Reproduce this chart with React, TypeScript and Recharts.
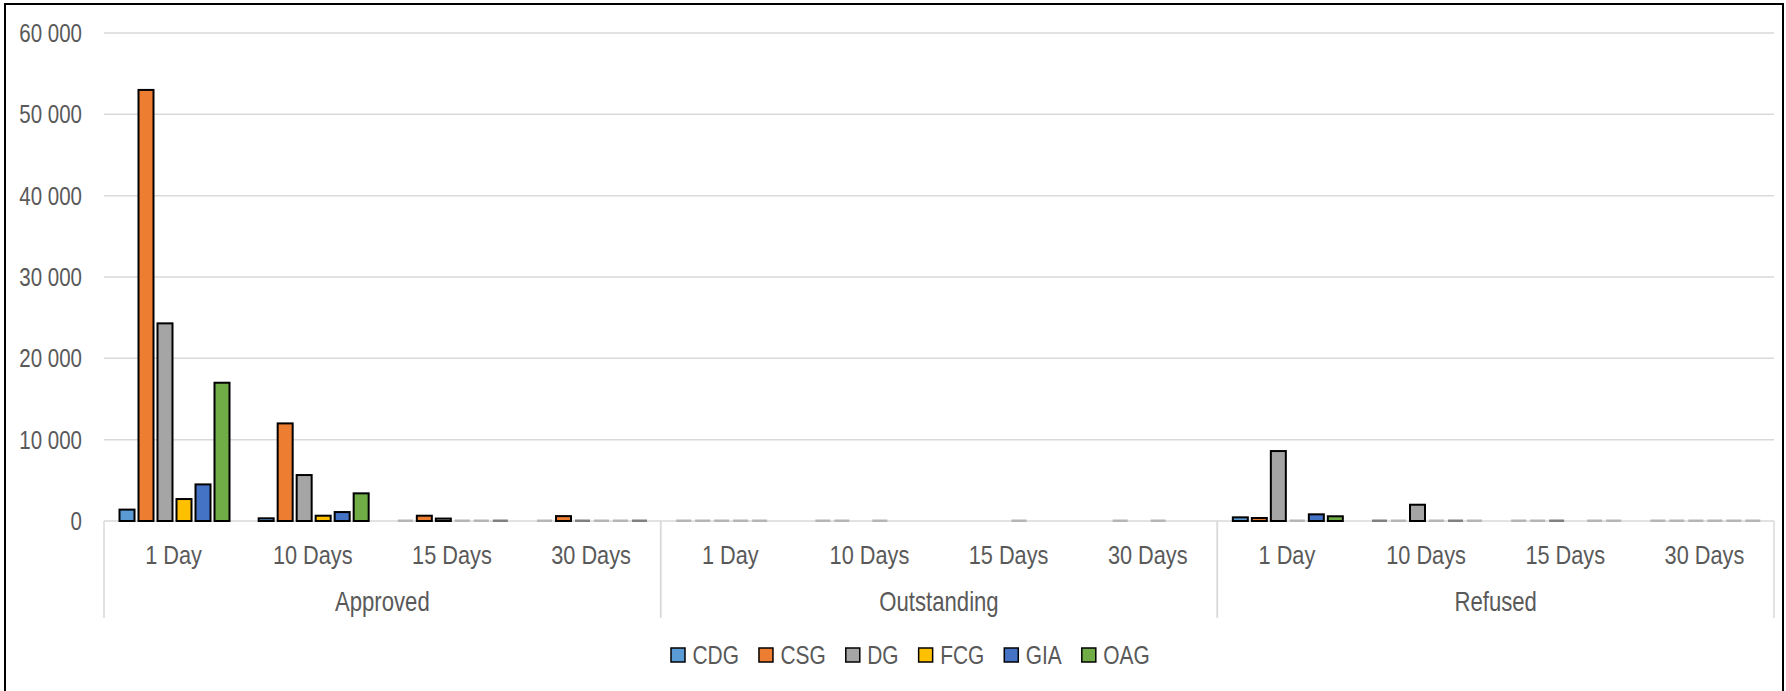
import React from "react";
import {
  BarChart,
  Bar,
  XAxis,
  YAxis,
  CartesianGrid,
  Legend,
} from "recharts";

// Categories
const groups = ["Approved", "Outstanding", "Refused"];
const periods = ["1 Day", "10 Days", "15 Days", "30 Days"];

// Series values, 12 per series (group x period, in order)
const cdg = [1400, 330, 30, 30, 20, 20, 0, 0, 450, 120, 30, 30];
const csg = [53000, 12000, 650, 600, 20, 20, 0, 20, 370, 50, 30, 30];
const dg = [24300, 5650, 300, 120, 20, 0, 0, 0, 8600, 2000, 100, 30];
const fcg = [2700, 650, 60, 40, 20, 20, 20, 20, 30, 30, 0, 30];
const gia = [4500, 1100, 60, 40, 20, 0, 0, 0, 820, 120, 30, 30];
const oag = [17000, 3400, 80, 180, 0, 0, 0, 0, 580, 50, 30, 30];

const yTicks = [0, 10000, 20000, 30000, 40000, 50000, 60000];

const SERIES = [
  { key: "CDG", values: cdg, color: "#5b9bd5" },
  { key: "CSG", values: csg, color: "#ed7d31" },
  { key: "DG", values: dg, color: "#a5a5a5" },
  { key: "FCG", values: fcg, color: "#ffc000" },
  { key: "GIA", values: gia, color: "#4472c4" },
  { key: "OAG", values: oag, color: "#70ad47" },
];

const data = groups.flatMap((group, gi) =>
  periods.map((period, pi) => {
    const row: Record<string, string | number> = { group, period };
    SERIES.forEach((s) => {
      row[s.key] = s.values[gi * periods.length + pi];
    });
    return row;
  })
);

const W = 1786;
const H = 691;
// no narrow font installed, so Liberation Sans gets squeezed horizontally
const FONT = '"Liberation Sans", Arial, sans-serif';
const NARROW = 0.82;
const TEXT = "#595959";
const GRID = "#d9d9d9";
const MARGIN = { top: 33, right: 12, left: 14, bottom: 23 };
const Y_WIDTH = 90;
const X1_HEIGHT = 40;
const X2_HEIGHT = 57;
const LEGEND_HEIGHT = 50;
const PLOT_LEFT = MARGIN.left + Y_WIDTH;
const PLOT_RIGHT = W - MARGIN.right;
const PLOT_BOTTOM = H - MARGIN.bottom - LEGEND_HEIGHT - X1_HEIGHT - X2_HEIGHT;
const GROUP_HALF = (PLOT_RIGHT - PLOT_LEFT) / groups.length / 2;

const fmt = (v: number) => String(v).replace(/\B(?=(\d{3})+(?!\d))/g, " ");

let measureCtx: CanvasRenderingContext2D | null = null;
function textWidth(t: string, size: number) {
  if (!measureCtx) measureCtx = document.createElement("canvas").getContext("2d");
  if (!measureCtx) return t.length * size * 0.5;
  measureCtx.font = `${size}px "Liberation Sans", Arial`;
  return measureCtx.measureText(t).width * NARROW;
}

function NText(props: {
  x: number;
  y: number;
  size: number;
  anchor?: "start" | "middle" | "end";
  children: React.ReactNode;
}) {
  const { x, y, size, anchor = "start", children } = props;
  return (
    <text
      transform={`translate(${x} ${y}) scale(${NARROW} 1)`}
      textAnchor={anchor}
      fontSize={size}
      fontFamily={FONT}
      fill={TEXT}
    >
      {children}
    </text>
  );
}

// tiny values show as a flat dash on the axis, like the original
function makeShape(key: string, color: string) {
  return (props: any) => {
    const { x, y, width, height, payload } = props;
    const v = payload?.[key] ?? 0;
    if (!v) return <g />;
    const bottom = y + height;
    if (height < 0.6) {
      return <rect x={x} y={bottom - 1.5} width={width} height={2.5} fill="#b5b5b5" />;
    }
    if (height < 2) {
      return <rect x={x} y={bottom - 1.5} width={width} height={2.5} fill="#808080" />;
    }
    return (
      <rect
        x={x}
        y={y}
        width={width}
        height={height}
        fill={color}
        stroke="#000"
        strokeWidth={2}
      />
    );
  };
}

function YTick(props: any) {
  const { x, y, payload } = props;
  return (
    <NText x={x} y={y + 9} size={25} anchor="end">
      {fmt(payload.value)}
    </NText>
  );
}

function PeriodTick(props: any) {
  const { x, payload } = props;
  return (
    <NText x={x} y={PLOT_BOTTOM + 43} size={26.5} anchor="middle">
      {payload.value}
    </NText>
  );
}

function GroupTick(props: any) {
  const { x, payload } = props;
  return (
    <g>
      <line x1={x - GROUP_HALF} x2={x - GROUP_HALF} y1={PLOT_BOTTOM} y2={PLOT_BOTTOM + 97} stroke={GRID} strokeWidth={1.5} />
      <line x1={x + GROUP_HALF} x2={x + GROUP_HALF} y1={PLOT_BOTTOM} y2={PLOT_BOTTOM + 97} stroke={GRID} strokeWidth={1.5} />
      <NText x={x} y={PLOT_BOTTOM + 90} size={27} anchor="middle">
        {payload.value}
      </NText>
    </g>
  );
}

function LegendContent() {
  const size = 25.5;
  let cx = 671;
  const items = SERIES.map((s) => {
    const sx = cx;
    const tx = sx + 14 + 7.5;
    const tw = textWidth(s.key, size);
    cx = tx + tw + 20;
    return (
      <g key={s.key}>
        <rect x={sx} y={30} width={14} height={14} fill={s.color} stroke="#000" strokeWidth={1.5} />
        <NText x={tx} y={46} size={size}>
          {s.key}
        </NText>
      </g>
    );
  });
  return (
    <svg width={W} height={LEGEND_HEIGHT} style={{ display: "block" }}>
      {items}
    </svg>
  );
}

export default function App() {
  return (
    <div style={{ position: "relative", width: W, height: H, overflow: "hidden", background: "#fff" }}>
      <style>{"body{margin:0}"}</style>
      <div
        style={{
          position: "absolute",
          left: 4,
          top: 3,
          width: 1780,
          height: 740,
          boxSizing: "border-box",
          border: "2px solid #000",
        }}
      />
      <div style={{ position: "absolute", left: 0, top: 0 }}>
        <BarChart
          width={W}
          height={H}
          data={data}
          margin={MARGIN}
          barGap={4}
          barCategoryGap={15.5}
        >
          <CartesianGrid horizontal vertical={false} stroke={GRID} strokeWidth={1.5} />
          <XAxis
            xAxisId="a"
            dataKey="period"
            height={X1_HEIGHT}
            interval={0}
            tickLine={false}
            axisLine={false}
            tick={<PeriodTick />}
          />
          <XAxis
            xAxisId="b"
            dataKey="group"
            allowDuplicatedCategory={false}
            height={X2_HEIGHT}
            interval={0}
            tickLine={false}
            axisLine={false}
            tick={<GroupTick />}
          />
          <YAxis
            width={Y_WIDTH}
            domain={[0, 60000]}
            ticks={yTicks}
            tickLine={false}
            axisLine={false}
            tickSize={0}
            tickMargin={22}
            tick={<YTick />}
          />
          <Legend
            verticalAlign="bottom"
            height={LEGEND_HEIGHT}
            content={<LegendContent />}
            wrapperStyle={{ left: 0, width: W }}
          />
          {SERIES.map((s) => (
            <Bar
              key={s.key}
              xAxisId="a"
              dataKey={s.key}
              fill={s.color}
              stroke="#000"
              strokeWidth={2}
              isAnimationActive={false}
              shape={makeShape(s.key, s.color)}
            />
          ))}
        </BarChart>
      </div>
    </div>
  );
}
